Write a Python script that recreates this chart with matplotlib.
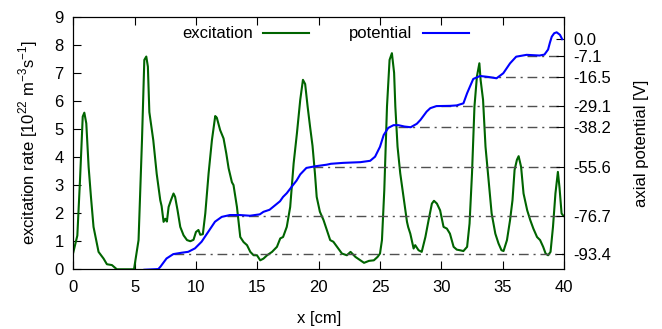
import matplotlib
matplotlib.use('Agg')
import matplotlib.pyplot as plt
import numpy as np

plt.rcParams['font.family'] = ['Liberation Sans', 'DejaVu Sans']
plt.rcParams['mathtext.fontset'] = 'custom'
plt.rcParams['mathtext.rm'] = 'Liberation Sans'
plt.rcParams['font.size'] = 12

# excitation rate (10^22 m^-3 s^-1) vs x (cm)
x_exc = [0.0, 0.33, 0.55, 0.77, 0.9, 1.06, 1.25, 1.44, 1.65, 2.06, 2.47, 2.74, 3.15, 3.55,
         4.95, 5.32, 5.6, 5.79, 5.95, 6.08, 6.2, 6.52, 6.8, 7.09, 7.2, 7.36, 7.5, 7.63, 7.77,
         7.96, 8.17, 8.3, 8.5, 8.72, 8.99, 9.27, 9.54, 9.8, 10.0, 10.2, 10.35, 10.56, 10.76,
         11.03, 11.3, 11.57, 11.7, 11.97, 12.25, 12.47, 12.66, 12.93, 13.06, 13.34, 13.61,
         13.88, 14.16, 14.43, 14.7, 14.97, 15.24, 15.5, 15.8, 16.2, 16.6, 16.87, 17.1, 17.4,
         17.68, 17.96, 18.23, 18.5, 18.72, 18.9, 19.1, 19.3, 19.5, 19.7, 19.84, 20.1, 20.4,
         20.67, 20.94, 21.2, 21.5, 21.9, 22.3, 22.6, 23.0, 23.4, 23.7, 24.1, 24.5, 24.8, 25.0,
         25.16, 25.35, 25.57, 25.78, 25.97, 26.15, 26.25, 26.43, 26.65, 26.92, 27.2, 27.3,
         27.47, 27.74, 27.87, 28.14, 28.4, 28.7, 28.96, 29.23, 29.4, 29.64, 29.9, 30.18,
         30.45, 30.7, 31.0, 31.26, 31.5, 31.8, 32.1, 32.3, 32.5, 32.7, 32.9, 33.1, 33.2, 33.4,
         33.6, 33.85, 34.1, 34.4, 34.66, 34.9, 35.07, 35.35, 35.6, 35.8, 35.97, 36.16, 36.3,
         36.5, 36.7, 37.0, 37.25, 37.5, 37.8, 38.05, 38.3, 38.5, 38.7, 38.9, 39.1, 39.3, 39.5,
         39.63, 39.8, 39.95]
y_exc = [0.6, 1.2, 3.2, 5.44, 5.58, 5.2, 3.65, 2.58, 1.51, 0.62, 0.38, 0.18, 0.15, 0.0,
         0.0, 1.04, 4.6, 7.46, 7.58, 7.22, 5.6, 4.6, 3.4, 2.46, 2.25, 1.69, 1.8, 1.7, 2.22,
         2.46, 2.7, 2.58, 2.1, 1.51, 1.21, 1.04, 1.0, 1.05, 1.33, 1.4, 1.23, 1.25, 1.99,
         3.42, 4.6, 5.46, 5.4, 4.96, 4.66, 4.13, 3.6, 3.1, 3.0, 2.22, 1.15,
         0.97, 0.86, 0.62, 0.5, 0.5, 0.32, 0.38, 0.5, 0.62, 0.8, 1.1, 1.15, 1.51,
         2.22, 3.77, 4.85, 6.04, 6.75, 6.6, 5.8, 5.08, 4.4, 3.4, 2.58, 2.05, 1.75,
         1.39, 1.04, 0.98, 0.8, 0.56, 0.5, 0.62, 0.44, 0.32, 0.23, 0.3, 0.32, 0.44, 0.56,
         1.04, 2.82, 5.8, 7.46, 7.7, 7.0, 5.8, 4.37, 3.42, 2.58, 1.69, 1.5,
         1.27, 0.74, 0.86, 0.68, 0.62, 1.15, 1.75, 2.34, 2.44, 2.34, 2.1, 1.51,
         1.45, 1.27, 0.8, 0.7, 0.68, 0.65, 0.8, 1.63, 3.42, 5.8, 6.87, 7.34, 6.75, 6.04,
         4.37, 3.18, 1.99, 1.27, 0.92, 0.68, 0.65, 1.04, 1.75, 2.46, 3.54, 3.9, 4.03,
         3.65, 2.7, 2.1, 1.75, 1.45, 1.15, 1.04, 0.8, 0.56, 0.5, 0.62, 1.51, 2.7, 3.47,
         2.92, 1.99, 1.9]

# axial potential (V) vs x (cm)
x_pot = [5.8, 6.93, 7.1, 7.6, 8.15, 8.83, 9.37, 9.92, 10.46, 11.0, 11.55, 12.1, 12.77,
         13.58, 14.4, 15.2, 15.5, 16.0, 16.3, 16.85, 17.1, 17.4, 17.8, 18.2, 18.5, 19.0,
         19.7, 20.65, 21.0, 22.0, 23.4, 24.2, 24.6, 25.0, 25.3, 25.67, 26.1, 26.5, 27.0,
         27.5, 28.0, 28.3, 28.8, 29.1, 29.6, 30.7, 31.25, 31.8, 32.1, 32.3, 32.6, 33.15,
         33.8, 34.5, 35.05, 35.6, 36.1, 36.95, 38.0, 38.4, 38.7, 38.85, 39.0, 39.2, 39.4,
         39.67, 39.85]
v_pot = [-100.3, -100.0, -99.0, -95.4, -93.5, -92.9, -92.5, -91.0, -88.1, -83.8, -79.4,
         -77.3, -76.5, -76.5, -76.8, -76.2, -75.1, -74.2, -72.9, -70.5, -68.6, -67.0, -64.2,
         -61.5, -58.8, -56.0, -55.3, -54.6, -54.2, -53.8, -53.5, -52.9, -51.1, -46.8, -41.7,
         -38.6, -37.4, -37.4, -38.0, -38.3, -36.8, -35.1, -31.5, -30.0, -29.1, -29.0, -28.8,
         -27.9, -23.5, -21.0, -17.3, -16.0, -16.4, -17.0, -14.8, -10.5, -7.6, -6.8, -7.1,
         -6.7, -4.5, -1.5, 1.1, 2.6, 3.0, 1.9, 0.0]

# plateau levels (right axis ticks) and where the guide lines start
levels = [0.0, -7.1, -16.5, -29.1, -38.2, -55.6, -76.7, -93.4]
level_start = [39.8, 37.0, 33.5, 30.0, 26.5, 19.5, 12.5, 8.2]

fig = plt.figure(figsize=(6.62, 3.29), dpi=100)
ax = fig.add_axes([0.1107, 0.1815, 0.7413, 0.7678])
ax2 = ax.twinx()

ax.plot(x_exc, y_exc, color='#006400', lw=1.5, label='excitation', zorder=3)
ax.set_xlim(0, 40)
ax.set_ylim(0, 9)
ax.set_xticks(np.arange(0, 41, 5))
ax.set_yticks(np.arange(0, 10, 1))
ax.tick_params(axis='x', direction='in', length=6, top=True, pad=8)
ax.tick_params(axis='y', direction='in', length=6, right=False, pad=7)
ax.set_xlabel('x [cm]')
ax.xaxis.set_label_coords(0.5, -0.165)
ax.set_ylabel(r'excitation rate [10$^{\mathregular{22}}$ m$^{\mathregular{-3}}$s$^{\mathregular{-1}}$]')
ax.yaxis.set_label_coords(-0.068, 0.5)

for lv, xs in zip(levels[1:], level_start[1:]):
    ax2.plot([xs, 40], [lv, lv], color='#505050', lw=1, dashes=(7, 3.5, 1.5, 3.5), zorder=1)
ax2.plot(x_pot, v_pot, color='#0000ff', lw=1.5, label='potential', zorder=3)
ax2.set_ylim(-100.1, 9.8)
ax2.set_yticks(levels)
ax2.set_yticklabels(['%.1f' % v for v in levels])
ax2.tick_params(axis='y', direction='in', length=6, pad=7)
ax2.set_ylabel('axial potential [V]')
ax2.yaxis.set_label_coords(1.143, 0.5)
ax2.patch.set_visible(False)

h1, l1 = ax.get_legend_handles_labels()
h2, l2 = ax2.get_legend_handles_labels()
ax2.legend(h1 + h2, l1 + l2, ncol=2, loc='center', bbox_to_anchor=(0.514, 0.9315),
           frameon=False, markerfirst=False, handlelength=2.8, handletextpad=0.6,
           columnspacing=2.4, borderpad=0, fontsize=12)

plt.savefig('out.png', dpi=100)
